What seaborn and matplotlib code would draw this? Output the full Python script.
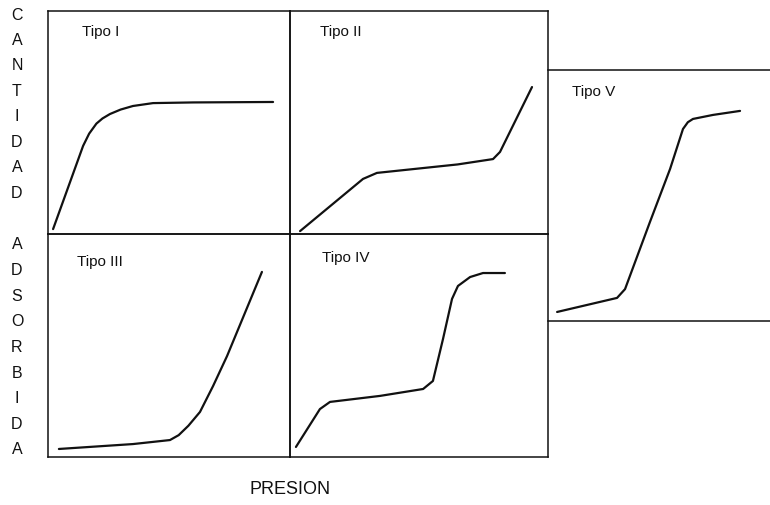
import numpy as np
import pandas as pd
import matplotlib
matplotlib.use("Agg")
import matplotlib.pyplot as plt
import seaborn as sns

# relative pressure (x) vs. relative adsorbed amount (y)
tipo1_p = [0.021, 0.145, 0.170, 0.200, 0.225, 0.256, 0.300, 0.351, 0.434, 0.600, 0.930]
tipo1_q = [0.022, 0.395, 0.450, 0.495, 0.518, 0.538, 0.558, 0.574, 0.587, 0.590, 0.592]

tipo2_p = [0.039, 0.283, 0.337, 0.477, 0.650, 0.787, 0.814, 0.938]
tipo2_q = [0.013, 0.247, 0.274, 0.291, 0.312, 0.336, 0.368, 0.659]

tipo3_p = [0.045, 0.351, 0.504, 0.540, 0.580, 0.628, 0.682, 0.740, 0.884]
tipo3_q = [0.036, 0.058, 0.076, 0.098, 0.140, 0.202, 0.318, 0.453, 0.830]

tipo4_p = [0.023, 0.116, 0.155, 0.349, 0.516, 0.554, 0.593, 0.628, 0.651, 0.698, 0.748, 0.833]
tipo4_q = [0.045, 0.215, 0.247, 0.274, 0.305, 0.341, 0.529, 0.709, 0.767, 0.807, 0.825, 0.825]

tipo5_p = [0.041, 0.311, 0.347, 0.459, 0.550, 0.608, 0.630, 0.653, 0.743, 0.865]
tipo5_q = [0.036, 0.092, 0.127, 0.394, 0.606, 0.765, 0.792, 0.805, 0.821, 0.837]

labels = ["Tipo I", "Tipo II", "Tipo III", "Tipo IV", "Tipo V"]
ylabel_1 = "CANTIDAD"
ylabel_2 = "ADSORBIDA"
xlabel = "PRESION"

sns.set_style("white")
plt.rcParams["font.family"] = ["Liberation Sans", "DejaVu Sans"]

W, H = 770, 506
fig = plt.figure(figsize=(W / 100, H / 100), dpi=100)

# panel boxes in pixels: (left, top, width, height)
boxes = [(48, 12, 242, 223), (290, 12, 258, 223),
         (48, 235, 242, 223), (290, 235, 258, 223),
         (548, 71, 222, 251)]
label_pos = [(0.14, 0.91), (0.116, 0.91), (0.12, 0.88), (0.124, 0.897), (0.108, 0.916)]
curves = [(tipo1_p, tipo1_q), (tipo2_p, tipo2_q), (tipo3_p, tipo3_q),
          (tipo4_p, tipo4_q), (tipo5_p, tipo5_q)]

for i, ((l, t, w, h), (px, qy)) in enumerate(zip(boxes, curves)):
    ax = fig.add_axes([l / W, 1 - (t + h) / H, w / W, h / H])
    df = pd.DataFrame({"p": px, "q": qy})
    sns.lineplot(data=df, x="p", y="q", ax=ax, color="#111111", linewidth=1.6,
                 sort=False, estimator=None)
    ax.set_xlim(0, 1)
    ax.set_ylim(0, 1)
    ax.set_xticks([])
    ax.set_yticks([])
    ax.set_xlabel("")
    ax.set_ylabel("")
    ax.patch.set_alpha(0)
    for s in ax.spines.values():
        s.set_color("#111111")
        s.set_linewidth(1.1)
    if i == 4:
        ax.spines["right"].set_visible(False)
        ax.spines["left"].set_visible(False)
    ax.text(*label_pos[i], labels[i], transform=ax.transAxes, fontsize=11,
            ha="left", va="center", color="#111111")

# vertical axis title, one letter per line
for word, y0, y1 in [(ylabel_1, 15, 193), (ylabel_2, 245, 450)]:
    for ch, y in zip(word, np.linspace(y0, y1, len(word))):
        fig.text(17 / W, 1 - y / H, ch, fontsize=11.5, ha="center", va="center",
                 color="#111111")

fig.text(290 / W, 1 - 490 / H, xlabel, fontsize=13, ha="center", va="center",
         color="#111111")

fig.savefig("out.png", dpi=100)
